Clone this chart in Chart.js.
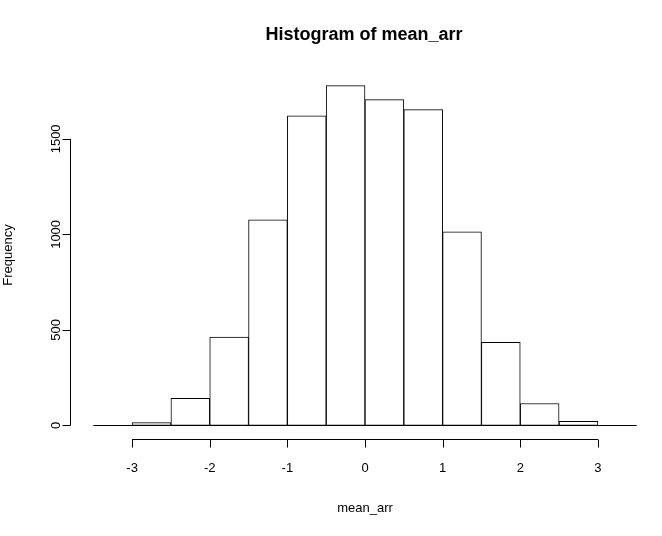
<!DOCTYPE html>
<html><head><meta charset="utf-8">
<script src="https://cdn.jsdelivr.net/npm/chart.js@4"></script>
<style>body{margin:0;background:#fff}</style></head>
<body><canvas id="c" width="662" height="536"></canvas>
<script>
const binCenters=[-2.75,-2.25,-1.75,-1.25,-0.75,-0.25,0.25,0.75,1.25,1.75,2.25,2.75];
const counts=[15,142,462,1076,1621,1779,1705,1653,1013,435,115,21];
const xTicks=[-3,-2,-1,0,1,2,3];
const yTicks=[0,500,1000,1500];
const F="Arial, Liberation Sans, sans-serif";
const axes={id:'rAxes',afterDraw(ch){
 const c=ch.ctx,x=ch.scales.x,y=ch.scales.y;
 c.save();c.strokeStyle='#000';c.fillStyle='#000';c.lineWidth=1;
 const y0=Math.round(y.getPixelForValue(0))+0.5;
 c.beginPath();c.moveTo(x.getPixelForValue(-3.5),y0);c.lineTo(x.getPixelForValue(3.5),y0);c.stroke();
 const by=Math.round(ch.chartArea.bottom)+0.5;
 c.beginPath();c.moveTo(x.getPixelForValue(-3),by);c.lineTo(x.getPixelForValue(3),by);
 xTicks.forEach(t=>{const px=Math.round(x.getPixelForValue(t))+0.5;c.moveTo(px,by);c.lineTo(px,by+8);});c.stroke();
 c.font='13px '+F;c.textAlign='center';c.textBaseline='middle';
 xTicks.forEach(t=>c.fillText(String(t),x.getPixelForValue(t),468));
 const lx=Math.round(ch.chartArea.left)+0.5;
 c.beginPath();c.moveTo(lx,y.getPixelForValue(0));c.lineTo(lx,y.getPixelForValue(1500));
 yTicks.forEach(t=>{const py=Math.round(y.getPixelForValue(t))+0.5;c.moveTo(lx,py);c.lineTo(lx-8,py);});c.stroke();
 yTicks.forEach(t=>{c.save();c.translate(lx-14,y.getPixelForValue(t));c.rotate(-Math.PI/2);c.fillText(String(t),0,0);c.restore();});
 c.font='bold 18px '+F;c.fillText('Histogram of mean_arr',364,35);
 c.font='13px '+F;c.fillText('mean_arr',365,508);
 c.save();c.translate(8,255);c.rotate(-Math.PI/2);c.fillText('Frequency',0,0);c.restore();
 c.restore();}};
new Chart(document.getElementById('c'),{type:'bar',
 data:{datasets:[{data:binCenters.map((v,i)=>({x:v,y:counts[i]})),backgroundColor:'#fff',borderColor:'#000',borderWidth:1,barPercentage:1,categoryPercentage:1,borderSkipped:false}]},
 options:{responsive:false,animation:false,layout:{padding:{left:70,right:2,top:72,bottom:97}},
  plugins:{legend:{display:false},tooltip:{enabled:false},title:{display:false}},
  scales:{x:{type:'linear',min:-3.8,max:3.8,offset:false,display:false},y:{min:-71,max:1850,display:false}}},
 plugins:[axes]});
</script></body></html>
